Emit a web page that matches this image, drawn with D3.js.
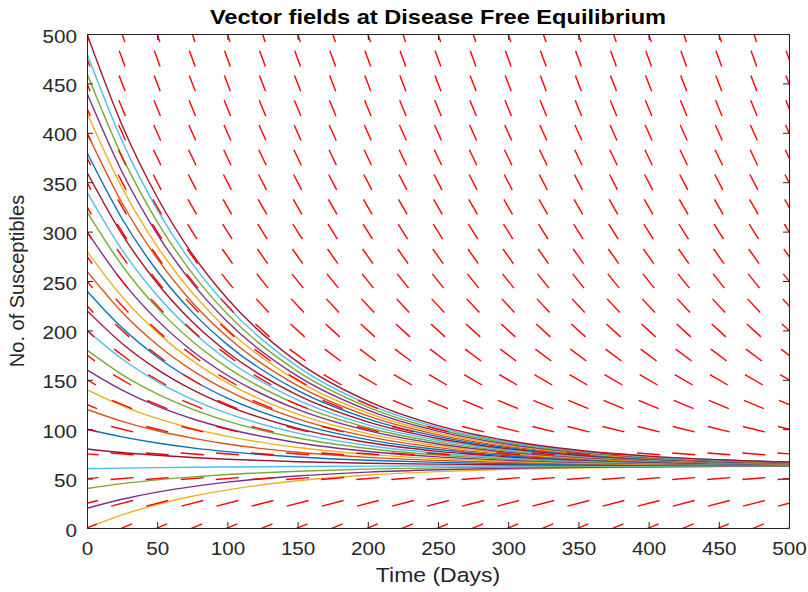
<!DOCTYPE html>
<html><head><meta charset="utf-8">
<script src="https://cdn.jsdelivr.net/npm/d3@7"></script>
<style>body{margin:0;background:#fff;} svg{display:block;font-family:"Liberation Sans",Arial,Helvetica,sans-serif;}</style>
</head><body>
<svg id="chart" width="808" height="592"></svg>
<script>
// ---------------- data ----------------
const titleText = "Vector fields at Disease Free Equilibrium";
const xLabelText = "Time (Days)";
const yLabelText = "No. of Susceptibles";

const xTicks = [0, 50, 100, 150, 200, 250, 300, 350, 400, 450, 500];
const yTicks = [0, 50, 100, 150, 200, 250, 300, 350, 400, 450, 500];

// sample days of the trajectories
const days = [0, 25, 50, 75, 100, 150, 200, 250, 300, 350, 400, 450, 500];

// trajectories (No. of susceptibles), one row per starting value 0,20,...,500
const susceptibles = [
  [0, 13.3, 23.8, 32.1, 38.6, 47.8, 53.6, 57.1, 59.4, 60.7, 61.6, 62.1, 62.5],
  [20, 29.1, 36.3, 41.9, 46.4, 52.7, 56.6, 59.0, 60.5, 61.5, 62.0, 62.4, 62.6],
  [40, 44.9, 48.7, 51.7, 54.1, 57.5, 59.6, 60.9, 61.7, 62.2, 62.5, 62.7, 62.8],
  [60, 60.6, 61.1, 61.5, 61.8, 62.3, 62.6, 62.7, 62.8, 62.9, 62.9, 63.0, 63.0],
  [80, 76.4, 73.6, 71.3, 69.6, 67.1, 65.5, 64.6, 64.0, 63.6, 63.4, 63.2, 63.1],
  [100, 92.2, 86.0, 81.1, 77.3, 71.9, 68.5, 66.4, 65.1, 64.3, 63.8, 63.5, 63.3],
  [120, 108.0, 98.4, 91.0, 85.0, 76.7, 71.5, 68.3, 66.3, 65.1, 64.3, 63.8, 63.5],
  [140, 123.7, 110.9, 100.8, 92.8, 81.5, 74.5, 70.2, 67.5, 65.8, 64.7, 64.1, 63.7],
  [160, 139.5, 123.3, 110.6, 100.5, 86.3, 77.5, 72.0, 68.6, 66.5, 65.2, 64.3, 63.8],
  [180, 155.3, 135.8, 120.4, 108.2, 91.1, 80.5, 73.9, 69.8, 67.2, 65.6, 64.6, 64.0],
  [200, 171.0, 148.2, 130.2, 116.0, 96.0, 83.5, 75.7, 70.9, 67.9, 66.1, 64.9, 64.2],
  [220, 186.8, 160.6, 140.0, 123.7, 100.8, 86.5, 77.6, 72.1, 68.7, 66.5, 65.2, 64.4],
  [240, 202.6, 173.1, 149.8, 131.4, 105.6, 89.5, 79.5, 73.2, 69.4, 67.0, 65.5, 64.5],
  [260, 218.4, 185.5, 159.6, 139.2, 110.4, 92.5, 81.3, 74.4, 70.1, 67.4, 65.7, 64.7],
  [280, 234.1, 198.0, 169.4, 146.9, 115.2, 95.5, 83.2, 75.5, 70.8, 67.9, 66.0, 64.9],
  [300, 249.9, 210.4, 179.2, 154.6, 120.0, 98.5, 85.0, 76.7, 71.5, 68.3, 66.3, 65.1],
  [320, 265.7, 222.8, 189.0, 162.4, 124.8, 101.5, 86.9, 77.9, 72.3, 68.8, 66.6, 65.2],
  [340, 281.4, 235.3, 198.8, 170.1, 129.6, 104.4, 88.8, 79.0, 73.0, 69.2, 66.9, 65.4],
  [360, 297.2, 247.7, 208.7, 177.9, 134.4, 107.4, 90.6, 80.2, 73.7, 69.7, 67.1, 65.6],
  [380, 313.0, 260.1, 218.5, 185.6, 139.2, 110.4, 92.5, 81.3, 74.4, 70.1, 67.4, 65.8],
  [400, 328.8, 272.6, 228.3, 193.3, 144.0, 113.4, 94.3, 82.5, 75.1, 70.6, 67.7, 65.9],
  [420, 344.5, 285.0, 238.1, 201.1, 148.9, 116.4, 96.2, 83.6, 75.9, 71.0, 68.0, 66.1],
  [440, 360.3, 297.5, 247.9, 208.8, 153.7, 119.4, 98.1, 84.8, 76.6, 71.4, 68.2, 66.3],
  [460, 376.1, 309.9, 257.7, 216.5, 158.5, 122.4, 99.9, 86.0, 77.3, 71.9, 68.5, 66.5],
  [480, 391.8, 322.3, 267.5, 224.3, 163.3, 125.4, 101.8, 87.1, 78.0, 72.3, 68.8, 66.6],
  [500, 407.6, 334.8, 277.3, 232.0, 168.1, 128.4, 103.6, 88.3, 78.7, 72.8, 69.1, 66.8]
];

// vector field grid and the slope (dS/dt) read for each row
const fieldDays = [0,25,50,75,100,125,150,175,200,225,250,275,300,325,350,375,400,425,450,475,500];
const fieldLevels = [0,25,50,75,100,125,150,175,200,225,250,275,300,325,350,375,400,425,450,475,500];
const fieldSlopes = [0.60, 0.36, 0.12, -0.11, -0.35, -0.59, -0.83, -1.06, -1.30, -1.54, -1.78,
                     -2.01, -2.25, -2.49, -2.73, -2.96, -3.20, -3.44, -3.68, -3.91, -4.15];

// ---------------- styles ----------------
const lineColors = ["#0072BD", "#D95319", "#EDB120", "#7E2F8E", "#77AC30", "#4DBEEE", "#A2142F"];
const axisColor = "#262626";
const stretch = 1.18;
const segLen = 16.5; // data units

const svg = d3.select('#chart');
const M = {left: 87, right: 789, top: 34, bottom: 528};
const x = d3.scaleLinear().domain([0, 500]).range([M.left, M.right]);
const y = d3.scaleLinear().domain([0, 500]).range([M.bottom, M.top]);

svg.append('rect').attr('width', 808).attr('height', 592).attr('fill', '#fff');
svg.append('defs').append('clipPath').attr('id', 'clip')
  .append('rect').attr('x', M.left).attr('y', M.top)
  .attr('width', M.right - M.left).attr('height', M.bottom - M.top);

const plot = svg.append('g').attr('clip-path', 'url(#clip)');

const line = d3.line()
  .x((d, i) => x(days[i]))
  .y(d => y(d))
  .curve(d3.curveMonotoneX);

plot.selectAll('path.curve').data(susceptibles).join('path')
  .attr('class', 'curve')
  .attr('d', line)
  .attr('fill', 'none')
  .attr('stroke', (d, i) => lineColors[(i + 2) % 7])
  .attr('stroke-width', 1.4);

const segs = [];
fieldLevels.forEach((s, j) => {
  const m = fieldSlopes[j];
  const dx = segLen / Math.sqrt(1 + m * m);
  const dy = m * dx;
  fieldDays.forEach(t => segs.push({x1: t - dx / 2, y1: s - dy / 2, x2: t + dx / 2, y2: s + dy / 2}));
});
plot.selectAll('line.field').data(segs).join('line')
  .attr('class', 'field')
  .attr('x1', d => x(d.x1)).attr('y1', d => y(d.y1))
  .attr('x2', d => x(d.x2)).attr('y2', d => y(d.y2))
  .attr('stroke', '#ff0000')
  .attr('stroke-width', 1.4);

// axes
function styleAxis(g) {
  g.select('.domain').attr('stroke', axisColor).attr('stroke-width', 1);
  g.selectAll('.tick line').attr('stroke', axisColor).attr('stroke-width', 1);
  g.selectAll('.tick text').attr('fill', axisColor).attr('font-size', 17.5)
    .attr('font-family', '"Liberation Sans",Arial,Helvetica,sans-serif');
}
const gx = svg.append('g').attr('transform', `translate(0,${M.bottom})`)
  .call(d3.axisBottom(x).tickValues(xTicks).tickSize(-6).tickSizeOuter(0).tickPadding(15));
styleAxis(gx);
gx.selectAll('.tick text').attr('transform', `scale(${stretch},1)`);

const gy = svg.append('g').attr('transform', `translate(${M.left},0)`)
  .call(d3.axisLeft(y).tickValues(yTicks).tickSize(-6).tickSizeOuter(0));
styleAxis(gy);
gy.selectAll('.tick text').attr('x', -10 / stretch).attr('dy', '0.46em')
  .attr('transform', `scale(${stretch},1)`);

const gt = svg.append('g').attr('transform', `translate(0,${M.top})`)
  .call(d3.axisTop(x).tickValues(xTicks).tickSize(-6).tickSizeOuter(0).tickFormat(() => ''));
styleAxis(gt);
const gr = svg.append('g').attr('transform', `translate(${M.right},0)`)
  .call(d3.axisRight(y).tickValues(yTicks).tickSize(-6).tickSizeOuter(0).tickFormat(() => ''));
styleAxis(gr);

// title and labels
const cx = (M.left + M.right) / 2;
svg.append('text')
  .attr('transform', `translate(${cx},23.5) scale(${stretch},1)`)
  .attr('text-anchor', 'middle').attr('font-size', 20).attr('font-weight', 'bold')
  .attr('fill', '#000').text(titleText);
svg.append('text')
  .attr('transform', `translate(${cx},582) scale(${stretch},1)`)
  .attr('text-anchor', 'middle').attr('font-size', 19.5)
  .attr('fill', axisColor).text(xLabelText);
svg.append('text')
  .attr('transform', `translate(24,${(M.top + M.bottom) / 2}) rotate(-90)`)
  .attr('text-anchor', 'middle').attr('font-size', 20)
  .attr('fill', axisColor).text(yLabelText);
</script>
</body></html>
